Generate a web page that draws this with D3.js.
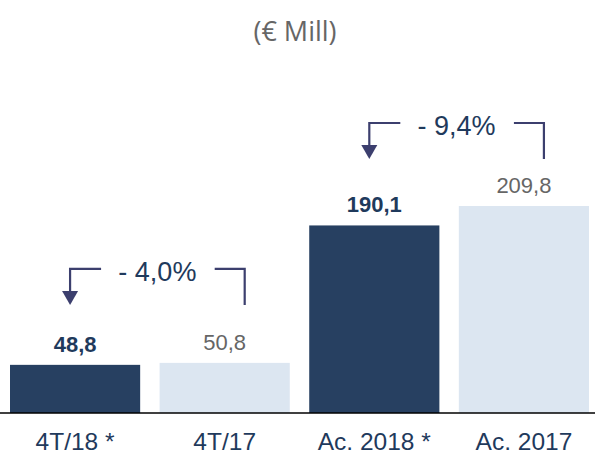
<!DOCTYPE html>
<html>
<head>
<meta charset="utf-8">
<script src="https://cdn.jsdelivr.net/npm/d3@7"></script>
<style>
  html, body { margin: 0; padding: 0; background: #ffffff; }
  svg { display: block; }
</style>
</head>
<body>
<svg id="chart" width="595" height="457"></svg>
<script>
// ---- data ----
const categories = ["4T/18 *", "4T/17", "Ac. 2018 *", "Ac. 2017"];
const values = [48.8, 50.8, 190.1, 209.8];
const valueLabels = ["48,8", "50,8", "190,1", "209,8"];
const isCurrent = [true, false, true, false];
const changeLabels = ["- 4,0%", "- 9,4%"];
const changePairs = [[0, 1], [2, 3]];
const title = "(€ Mill)";

// ---- layout ----
const W = 595, H = 457;
const baseY = 413;
const darkBar = "#274061", lightBar = "#dce6f1";
const darkText = "#1f3a5c", greyText = "#666666", bracketColor = "#3c3f6e";
const bracketLift = [94, 83];

const svg = d3.select("#chart");

const x = d3.scaleBand().domain(categories).range([10, 589]).paddingInner(0.13).paddingOuter(0);
const y = d3.scaleLinear().domain([0, 209.8]).range([baseY, 206]);

// title
svg.append("text")
  .attr("x", 295).attr("y", 41)
  .attr("text-anchor", "middle")
  .attr("font-family", "'Open Sans', 'Noto Sans', sans-serif")
  .attr("font-size", 27)
  .attr("fill", greyText)
  .text(title);

// bars
svg.selectAll("rect.bar").data(values).join("rect")
  .attr("class", "bar")
  .attr("x", (d, i) => x(categories[i]))
  .attr("width", x.bandwidth())
  .attr("y", d => y(d))
  .attr("height", d => baseY - y(d))
  .attr("fill", (d, i) => isCurrent[i] ? darkBar : lightBar);

// value labels
svg.selectAll("text.val").data(values).join("text")
  .attr("class", "val")
  .attr("x", (d, i) => x(categories[i]) + x.bandwidth() / 2)
  .attr("y", d => y(d) - 13)
  .attr("text-anchor", "middle")
  .attr("font-family", "'Liberation Sans', Arial, sans-serif")
  .attr("font-size", 22)
  .attr("font-weight", (d, i) => isCurrent[i] ? "bold" : "normal")
  .attr("fill", (d, i) => isCurrent[i] ? darkText : greyText)
  .text((d, i) => valueLabels[i]);

// axis
const axis = svg.append("g")
  .attr("transform", `translate(0,${baseY})`)
  .call(d3.axisBottom(x).tickSize(0).tickPadding(20));
axis.select(".domain").remove();
axis.selectAll("text")
  .attr("font-family", "'Liberation Sans', Arial, sans-serif")
  .attr("font-size", 24.5)
  .attr("fill", darkText);
svg.append("line")
  .attr("x1", 0).attr("x2", W)
  .attr("y1", baseY).attr("y2", baseY)
  .attr("stroke", "#000").attr("stroke-width", 1.5);

// change brackets
changePairs.forEach((pair, k) => {
  const [a, b] = pair;
  const cx1 = x(categories[a]) + x.bandwidth() / 2 - 5;
  const cx2 = x(categories[b]) + x.bandwidth() / 2 + 20;
  const by = y(Math.max(values[a], values[b])) - bracketLift[k];
  const tipY = by + 36;
  const g = svg.append("g");
  g.append("path")
    .attr("d", `M${cx1 + 31},${by} H${cx1} V${tipY - 13}`)
    .attr("fill", "none").attr("stroke", bracketColor).attr("stroke-width", 2.2);
  g.append("path")
    .attr("d", `M${cx1 - 8},${tipY - 14} L${cx1 + 8},${tipY - 14} L${cx1},${tipY} Z`)
    .attr("fill", bracketColor);
  g.append("path")
    .attr("d", `M${cx2 - 30},${by} H${cx2} V${tipY}`)
    .attr("fill", "none").attr("stroke", bracketColor).attr("stroke-width", 2.2);
  g.append("text")
    .attr("x", (cx1 + cx2) / 2).attr("y", by + 12)
    .attr("text-anchor", "middle")
    .attr("font-family", "'Liberation Sans', Arial, sans-serif")
    .attr("font-size", 27)
    .attr("fill", darkText)
    .text(changeLabels[k]);
});
</script>
</body>
</html>
